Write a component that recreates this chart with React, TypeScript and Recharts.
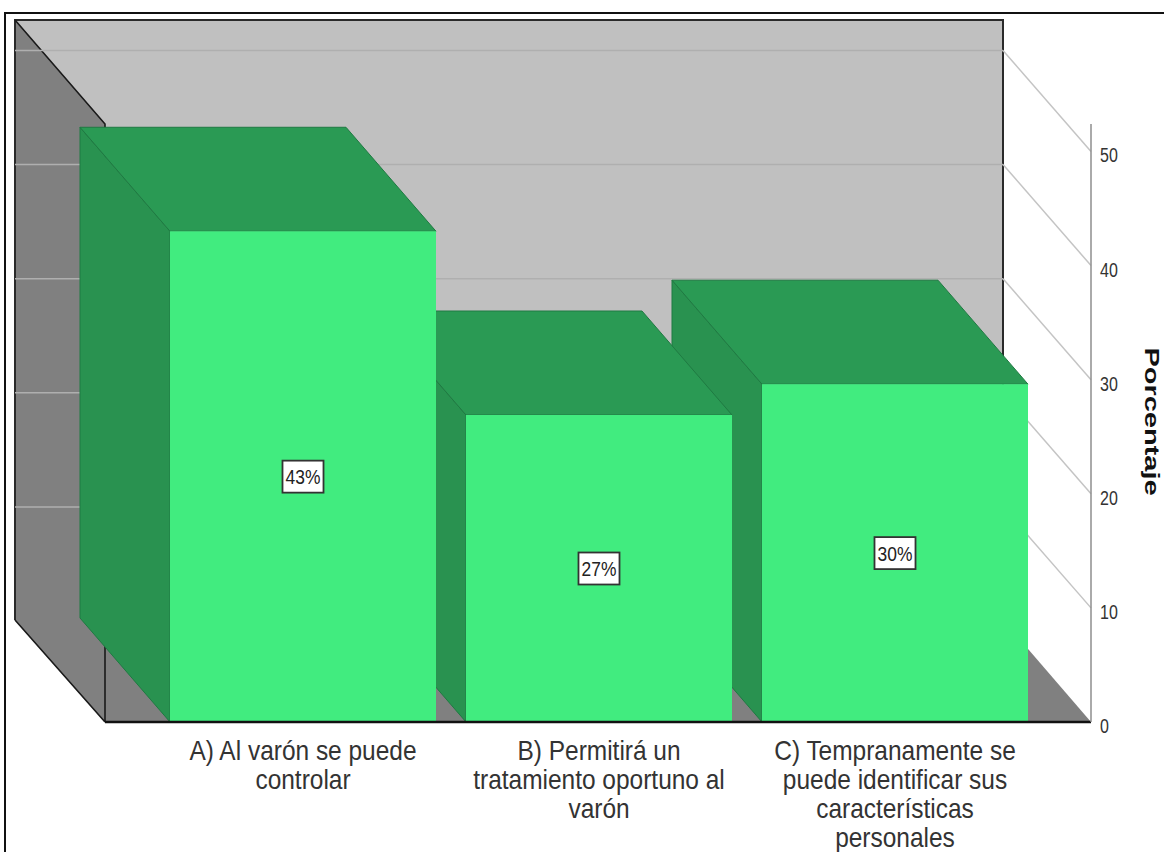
import React from 'react';
import { BarChart, Bar, XAxis, YAxis, ReferenceArea, ReferenceLine, LabelList } from 'recharts';

const categories = ['A) Al varón se puede controlar', 'B) Permitirá un tratamiento oportuno al varón', 'C) Tempranamente se puede identificar sus características personales'];
const tickLines = [
  ['A) Al varón se puede', 'controlar'],
  ['B) Permitirá un', 'tratamiento oportuno al', 'varón'],
  ['C) Tempranamente se', 'puede identificar sus', 'características', 'personales'],
];
const values = [43.0, 26.9, 29.6];
const yTicks = [0, 10, 20, 30, 40, 50];
const yMax = 52.4;

// Drawn last-to-first so that the left bars overlap the right bars' side faces, as in a 3D view.
const data = categories.map((name, i) => ({ name, value: values[i] })).reverse();

const DX = 90;
const DY = 104;
const WALL_DY = 102;
const RIGHT_DX = 88;
const GRID_DY = 101;
const PAD_LEFT = 50;
const PAD_RIGHT = 48;

const Walls = (p: any) => {
  const { y, height } = p;
  const x = p.x - PAD_LEFT;
  const r = p.x + p.width + PAD_RIGHT;
  const b = y + height;
  const bx = x - DX;
  const bxr = r - RIGHT_DX;
  const by = y - DY;
  const bb = b - WALL_DY;
  return (
    <g>
      <polygon points={`${bx},${by} ${bxr},${by} ${bxr},${bb} ${bx},${bb}`} fill="#C0C0C0" />
      <polygon points={`${bx},${by} ${x},${y} ${x},${b} ${bx},${bb}`} fill="#808080" />
      <polygon points={`${bx},${bb} ${bxr},${bb} ${r},${b} ${x},${b}`} fill="#808080" />
      <path d={`M${bx},${bb} L${bx},${by} L${bxr},${by} L${bxr},${bb}`} fill="none" stroke="#2a2a2a" strokeWidth={2} />
      <path d={`M${bx},${by} L${x},${y} L${x},${b} M${bx},${bb} L${x},${b}`} fill="none" stroke="#1a1a1a" strokeWidth={1.6} />
    </g>
  );
};

const GridShape = (p: any) => {
  const { x1, x2, y1, y2 } = p;
  const left = Math.min(x1, x2);
  const right = Math.max(x1, x2);
  const y = (y1 + y2) / 2;
  return (
    <g fill="none">
      <line x1={left - DX} x2={right - RIGHT_DX} y1={y - GRID_DY} y2={y - GRID_DY} stroke="#AFAFAF" strokeWidth={1.5} />
      <line x1={right - RIGHT_DX} x2={right} y1={y - GRID_DY} y2={y} stroke="#C4C4C4" strokeWidth={1.5} />
    </g>
  );
};

const Box3D = (p: any) => {
  const { x, y, width, height } = p;
  const b = y + height;
  const stroke = '#1F7A42';
  return (
    <g>
      <polygon points={`${x},${b} ${x - DX},${b - DY} ${x - DX},${y - DY} ${x},${y}`} fill="#299250" stroke={stroke} strokeWidth={1} />
      <polygon points={`${x},${y} ${x - DX},${y - DY} ${x + width - DX},${y - DY} ${x + width},${y}`} fill="#2A9A54" stroke={stroke} strokeWidth={1} />
      <rect x={x} y={y} width={width} height={height} fill="#41EC7F" />
    </g>
  );
};

const ValueBox = (p: any) => {
  const { x, y, width, height, value } = p;
  const cx = x + width / 2;
  const cy = y + height / 2;
  return (
    <g>
      <rect x={cx - 20.5} y={cy - 16} width={41} height={32} fill="#fff" stroke="#333" strokeWidth={1.8} />
      <text transform={`translate(${cx} ${cy + 7.5}) scale(0.87 1)`} textAnchor="middle" fontFamily="Liberation Sans" fontSize={20} fill="#222">
        {`${Math.round(value)}%`}
      </text>
    </g>
  );
};

const CategoryTick = (p: any) => {
  const { x, y, payload } = p;
  const lines = tickLines[categories.indexOf(payload.value)] || [];
  return (
    <g>
      {lines.map((l, i) => (
        <text key={l} transform={`translate(${x} ${y + 30 + i * 29}) scale(0.89 1)`} textAnchor="middle"
          fontFamily="Liberation Sans" fontSize={27.5} fill="#333">{l}</text>
      ))}
    </g>
  );
};

const ValueTick = (p: any) => {
  const { x, y, payload } = p;
  return (
    <text transform={`translate(${x} ${y + 11}) scale(0.8 1)`} fontFamily="Liberation Sans" fontSize={20} fill="#333">{payload.value}</text>
  );
};

const AxisTitle = (p: any) => {
  const { viewBox } = p;
  const cx = viewBox.x + 54;
  const cy = viewBox.y + viewBox.height / 2 - 1.5;
  return (
    <text transform={`translate(${cx} ${cy}) rotate(90) scale(1.38 1)`} textAnchor="middle"
      fontFamily="Liberation Sans" fontWeight="bold" fontSize={21} fill="#111">Porcentaje</text>
  );
};

export default function App() {
  return (
    <div style={{ position: 'absolute', left: 0, top: 0, width: 1164, height: 852, background: '#fff', overflow: 'hidden' }}>
      <div style={{ position: 'absolute', left: 4, top: 12, right: -10, bottom: -10, borderLeft: '2px solid #111', borderTop: '2px solid #111' }} />
      <div style={{ position: 'absolute', left: 0, top: 0 }}>
        <BarChart width={1164} height={852} data={data} margin={{ top: 124, right: 0, bottom: 0, left: 105 }}>
          <XAxis dataKey="name" reversed interval={0} padding={{ left: PAD_LEFT, right: PAD_RIGHT }} height={130} tickLine={false}
            axisLine={{ stroke: '#111', strokeWidth: 2.5 }} tick={<CategoryTick />} />
          <YAxis orientation="right" width={73} domain={[0, yMax]} ticks={yTicks} allowDataOverflow tickLine={false}
            axisLine={{ stroke: '#8E8E8E', strokeWidth: 1.5 }} tick={<ValueTick />} tickMargin={3} label={<AxisTitle />} />
          <ReferenceArea y1={0} y2={yMax} shape={<Walls />} ifOverflow="visible" zIndex={100} />
          {yTicks.slice(1).map((t) => (
            <ReferenceLine key={t} y={t} shape={<GridShape />} ifOverflow="visible" zIndex={150} />
          ))}
          <Bar dataKey="value" barSize={266} shape={<Box3D />} isAnimationActive={false}>
            <LabelList dataKey="value" content={<ValueBox />} />
          </Bar>
        </BarChart>
      </div>
    </div>
  );
}
